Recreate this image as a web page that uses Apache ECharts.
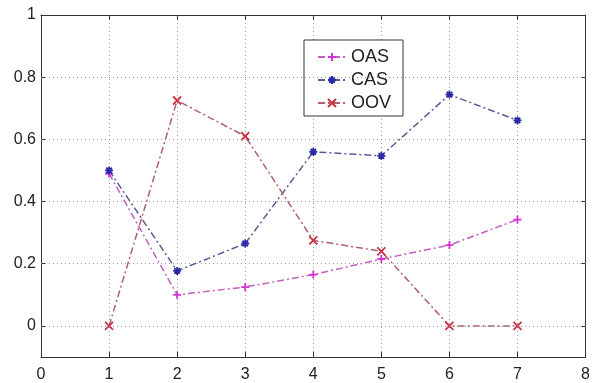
<!DOCTYPE html>
<html>
<head>
<meta charset="utf-8">
<script src="https://cdn.jsdelivr.net/npm/echarts@6/dist/echarts.min.js"></script>
<style>
html, body { margin: 0; padding: 0; background: #fff; }
#main { width: 593px; height: 383px; }
</style>
</head>
<body>
<div id="main"></div>
<script>
const xValues = [1, 2, 3, 4, 5, 6, 7];
const oas = [0.49, 0.10, 0.125, 0.165, 0.215, 0.26, 0.342];
const cas = [0.50, 0.177, 0.265, 0.56, 0.547, 0.744, 0.661];
const oov = [0, 0.725, 0.61, 0.275, 0.24, 0, 0];
const yTicks = [0, 0.2, 0.4, 0.6, 0.8, 1];

function pairs(ys) {
	return xValues.map(function (x, i) { return [x, ys[i]]; });
}

const plus = 'path://M5,0L5,10M0,5L10,5';
const star = 'path://M5,0L5,10M0,5L10,5M1.5,1.5L8.5,8.5M8.5,1.5L1.5,8.5';
const cross = 'path://M0,0L10,10M10,0L0,10';
const dashDot = [7, 3, 2, 3];

function makeSeries(name, ys, color, lineColor, symbol) {
	return {
		name: name,
		type: 'line',
		data: pairs(ys),
		symbol: symbol,
		symbolSize: 8,
		showSymbol: true,
		lineStyle: { color: lineColor, width: 1.5, type: dashDot },
		itemStyle: { color: color, borderColor: color, borderWidth: 1.8 },
		emphasis: { disabled: true },
		z: 3
	};
}

let myChart = echarts.init(document.getElementById('main'));
let axisText = { color: '#222', fontSize: 16, fontFamily: 'Liberation Sans, Arial, sans-serif' };
let frameLine = { show: true, onZero: false, lineStyle: { color: '#333' } };
let innerTick = { show: true, inside: true, length: 5, lineStyle: { color: '#333' } };
let option = {
	backgroundColor: '#fff',
	animation: false,
	grid: { left: 41, right: 3, top: 15, bottom: 24 },
	legend: {
		orient: 'vertical',
		left: 304,
		top: 40,
		backgroundColor: '#fff',
		borderColor: '#333',
		borderWidth: 1,
		borderRadius: 0,
		padding: [8, 12, 4, 13],
		itemWidth: 28,
		itemHeight: 10,
		itemGap: 5,
		textStyle: { fontSize: 18, color: '#222', fontFamily: 'Liberation Sans, Arial, sans-serif' },
		data: ['OAS', 'CAS', 'OOV']
	},
	xAxis: [{
		type: 'value',
		min: 0,
		max: 8,
		interval: 1,
		axisLine: frameLine,
		axisTick: innerTick,
		axisLabel: Object.assign({ margin: 10 }, axisText),
		splitLine: { show: true, lineStyle: { color: '#999', type: [1, 3] } }
	}, {
		type: 'value',
		position: 'top',
		min: 0,
		max: 8,
		interval: 1,
		axisLine: frameLine,
		axisTick: innerTick,
		axisLabel: { show: false },
		splitLine: { show: false }
	}],
	yAxis: [{
		type: 'value',
		min: -0.1,
		max: 1,
		axisLine: frameLine,
		axisTick: Object.assign({ customValues: yTicks }, innerTick),
		axisLabel: Object.assign({ margin: 5, customValues: yTicks }, axisText),
		splitLine: { show: false }
	}, {
		type: 'value',
		position: 'right',
		min: -0.1,
		max: 1,
		axisLine: frameLine,
		axisTick: Object.assign({ customValues: yTicks }, innerTick),
		axisLabel: { show: false, customValues: yTicks },
		splitLine: { show: false }
	}],
	series: [
		makeSeries('OAS', oas, '#d633d6', '#c060c0', plus),
		makeSeries('CAS', cas, '#2a2aa8', '#5a5a9a', star),
		makeSeries('OOV', oov, '#cc3344', '#b06070', cross),
		{
			type: 'line',
			data: [],
			silent: true,
			markLine: {
				silent: true,
				symbol: 'none',
				label: { show: false },
				lineStyle: { color: '#999', type: [1, 3], width: 1 },
				data: yTicks.slice(0, 5).map(function (v) { return { yAxis: v }; })
			},
			z: 1
		}
	]
};

myChart.setOption(option);
</script>
</body>
</html>
